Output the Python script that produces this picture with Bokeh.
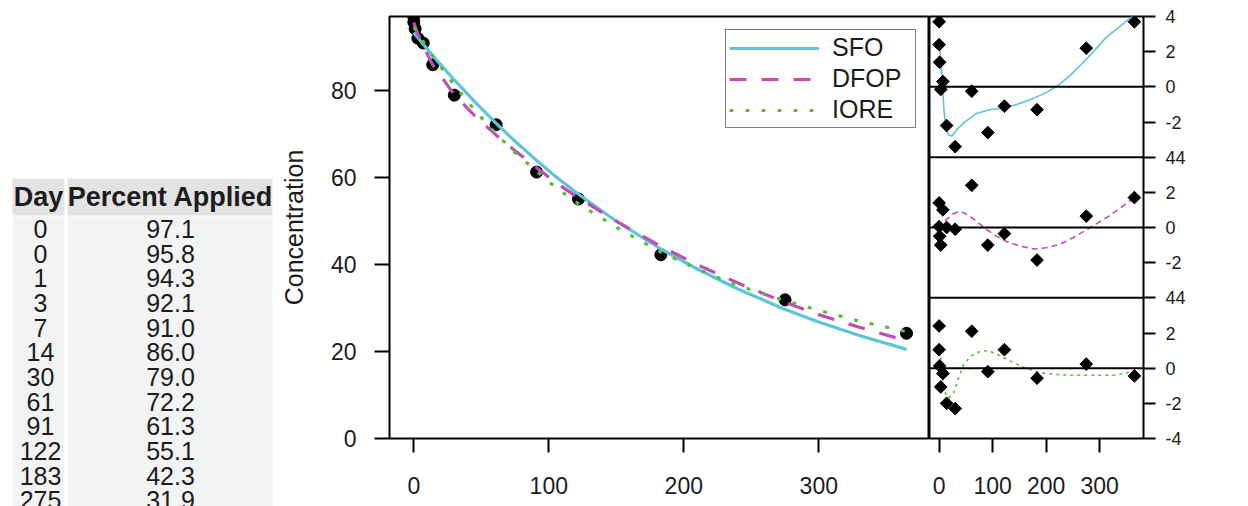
import math
from bokeh.plotting import figure
from bokeh.layouts import row
from bokeh.models import Range1d, FixedTicker, Legend, LegendItem, Span
from bokeh.embed import file_html
from bokeh.resources import INLINE
from bokeh.core.properties import value

# ---------------- data ----------------
days = [0, 0, 1, 3, 7, 14, 30, 61, 91, 122, 183, 275, 365]
percent = [97.1, 95.8, 94.3, 92.1, 91.0, 86.0, 79.0, 72.2, 61.3, 55.1, 42.3, 31.9, 24.2]
day_labels = ["0", "0", "1", "3", "7", "14", "30", "61", "91", "122", "183", "275", "365"]
percent_labels = ["97.1", "95.8", "94.3", "92.1", "91.0", "86.0", "79.0", "72.2",
                  "61.3", "55.1", "42.3", "31.9", "24.2"]
table_header = ["Day", "Percent Applied"]
visible_rows = 12

curve_days = [0, 1, 3, 7, 14, 30, 45, 61, 75, 91, 105, 122, 150, 183, 210, 240, 275, 300, 330, 365]
sfo_fit = [93.4, 93.0, 92.2, 90.7, 88.1, 82.5, 77.5, 72.5, 68.4, 64.0, 60.3, 56.2, 50.0, 43.6,
           39.0, 34.4, 29.7, 26.8, 23.7, 20.5]
dfop_fit = [95.7, 94.8, 93.1, 90.2, 86.0, 79.1, 74.3, 69.8, 66.2, 62.3, 58.9, 55.4, 50.0, 44.2,
            40.0, 35.8, 31.3, 28.5, 25.6, 22.5]
iore_fit = [94.7, 94.2, 93.2, 91.3, 88.0, 81.3, 75.6, 70.1, 65.8, 61.5, 57.8, 54.0, 48.6, 42.9,
            39.0, 35.2, 31.7, 29.5, 27.0, 24.6]

sfo_res = [3.7, 2.4, 1.4, -0.15, 0.3, -2.2, -3.4, -0.25, -2.6, -1.1, -1.3, 2.2, 3.7]
dfop_res = [1.4, 0.05, -0.5, -1.0, 1.0, 0.0, -0.1, 2.4, -1.0, -0.35, -1.85, 0.65, 1.7]
iore_res = [2.4, 1.05, 0.13, -1.07, -0.3, -2.0, -2.3, 2.1, -0.2, 1.05, -0.57, 0.23, -0.44]

sfo_smooth_days = [0, 4, 9, 13, 18, 24, 34, 46, 71, 95, 120, 145, 170, 195, 219, 245, 269, 290, 312, 340, 365]
sfo_smooth = [2.6, 1.2, -1.3, -2.45, -2.75, -2.8, -2.4, -2.05, -1.5, -1.3, -1.2, -1.0, -0.73, -0.4,
              0.0, 0.65, 1.37, 2.05, 2.8, 3.5, 4.1]
dfop_smooth_days = [0, 14, 25, 35, 45, 57, 70, 88, 105, 125, 150, 178, 200, 225, 255, 287, 320, 365]
dfop_smooth = [-0.1, 0.46, 0.75, 0.9, 0.85, 0.65, 0.35, -0.1, -0.45, -0.78, -1.05, -1.22, -1.15,
               -0.97, -0.5, 0.08, 0.7, 1.7]
iore_smooth_days = [0, 4, 7, 12, 17, 26, 36, 46, 60, 80, 95, 108, 130, 151, 170, 188, 215, 244, 290, 325, 345, 365]
iore_smooth = [1.4, 0.2, -0.9, -1.45, -1.7, -1.5, -0.6, 0.23, 0.7, 1.0, 0.95, 0.8, 0.45, 0.13, -0.08,
               -0.25, -0.35, -0.4, -0.4, -0.4, -0.3, -0.15]

x_ticks = [0, 100, 200, 300]
y_ticks = [0, 20, 40, 60, 80]

# ---------------- style ----------------
FONT = "Liberation Sans"
TXT = "#1c1c1c"
SFO_C = "#5ec4da"
DFOP_C = "#c04fb4"
IORE_C = "#58bf3c"
X_START, X_END = -18, 382
TOP = 16  # frame top shared by the row

# ---------------- table ----------------
TW, TH = 275, 490
tbl = figure(title=None, frame_width=TW, frame_height=TH, x_range=Range1d(0, TW),
             y_range=Range1d(TOP + TH, TOP), min_border=0, min_border_top=TOP,
             x_axis_location=None, y_axis_location=None,
             output_backend="svg", toolbar_location=None)
tbl.outline_line_color = None
tbl.grid.grid_line_color = None
col_left = [12, 67]
col_right = [64, 272]
tbl.quad(left=col_left, right=col_right, top=[178, 178], bottom=[215, 215],
         fill_color="#e3e3e3", line_color=None)
tbl.quad(left=col_left, right=col_right, top=[216, 216], bottom=[TOP + TH, TOP + TH],
         fill_color="#f2f3f3", line_color=None)
tbl.text(x=[38, 170], y=[196.5, 196.5], text=table_header, text_align="center",
         text_baseline="middle", text_font=value(FONT), text_font_style="bold",
         text_font_size="27px", text_color=TXT)
row_y = [228.5 + 24.65 * i for i in range(visible_rows)]
tbl.text(x=[40] * visible_rows, y=row_y, text=day_labels[:visible_rows], text_align="center",
         text_baseline="middle", text_font=value(FONT), text_font_size="25px", text_color=TXT)
tbl.text(x=[170] * visible_rows, y=row_y, text=percent_labels[:visible_rows], text_align="center",
         text_baseline="middle", text_font=value(FONT), text_font_size="25px", text_color=TXT)


def style_axis(ax, ticks, size="23px", tick_out=14, standoff=18):
    ax.ticker = FixedTicker(ticks=ticks)
    ax.major_tick_out = tick_out
    ax.major_tick_in = 0
    ax.major_tick_line_width = 2
    ax.major_tick_line_color = "black"
    ax.minor_tick_line_color = None
    ax.axis_line_color = None
    ax.major_label_text_font = FONT
    ax.major_label_text_font_size = size
    ax.major_label_text_color = TXT
    ax.major_label_standoff = standoff


# ---------------- main plot ----------------
main = figure(title=None, frame_width=540, frame_height=422, x_range=Range1d(X_START, X_END),
              y_range=Range1d(0, max(percent)), min_border=0, min_border_left=114,
              min_border_top=TOP, output_backend="svg", toolbar_location=None)
main.grid.grid_line_color = None
main.outline_line_color = "black"
main.outline_line_width = 2
style_axis(main.xaxis[0], x_ticks, standoff=24)
style_axis(main.yaxis[0], y_ticks, tick_out=15, standoff=18)
main.yaxis.axis_label = "Concentration"
main.yaxis.axis_label_text_font = FONT
main.yaxis.axis_label_text_font_size = "25px"
main.yaxis.axis_label_text_font_style = "normal"
main.yaxis.axis_label_text_color = TXT
main.yaxis.axis_label_standoff = 20

main.scatter(days, percent, size=12, marker="circle", color="black")
l_sfo = main.line(curve_days, sfo_fit, color=SFO_C, line_width=3.2)
l_dfop = main.line(curve_days, dfop_fit, color=DFOP_C, line_width=3.2, line_dash="17 15")
l_iore = main.line(curve_days, iore_fit, color=IORE_C, line_width=3.2, line_dash="4 12")

legend = Legend(items=[LegendItem(label="SFO", renderers=[l_sfo]),
                       LegendItem(label="DFOP", renderers=[l_dfop]),
                       LegendItem(label="IORE", renderers=[l_iore])],
                location="top_right", margin=13, padding=3, spacing=2,
                glyph_width=90, glyph_height=22, label_standoff=13, label_width=80,
                label_height=22, label_text_font=FONT, label_text_font_size="25px",
                label_text_color=TXT, label_text_line_height=1.0,
                border_line_color="black", border_line_width=1.5,
                background_fill_color="white", background_fill_alpha=1.0)
main.add_layout(legend)

# ---------------- residual panels ----------------
res = figure(title=None, frame_width=214, frame_height=422, x_range=Range1d(X_START, X_END),
             y_range=Range1d(-12, 12), min_border=0, min_border_top=TOP,
             y_axis_location="right", output_backend="svg", toolbar_location=None)
res.extra_y_ranges = {"p1": Range1d(-20, 4), "p2": Range1d(-12, 12), "p3": Range1d(-4, 20)}
res.grid.grid_line_color = None
res.outline_line_color = "black"
res.outline_line_width = 2
style_axis(res.xaxis[0], x_ticks, standoff=24)
style_axis(res.yaxis[0], [-12, -10, -8, -6, -4, -2, 0, 2, 4, 6, 8, 10, 12],
           size="18px", tick_out=12, standoff=10)
res.yaxis[0].major_label_overrides = {12: "4", 10: "2", 8: "0", 6: "-2", 4: "44",
                                      2: "2", 0: "0", -2: "-2", -4: "44",
                                      -6: "2", -8: "0", -10: "-2", -12: "-4"}
for loc in (4, -4):
    res.add_layout(Span(location=loc, dimension="width", line_color="black", line_width=2))
for name in ("p1", "p2", "p3"):
    res.add_layout(Span(location=0, dimension="width", line_color="black", line_width=2,
                        y_range_name=name))

res.line(sfo_smooth_days, sfo_smooth, color=SFO_C, line_width=1.6, y_range_name="p1")
res.line(dfop_smooth_days, dfop_smooth, color=DFOP_C, line_width=1.6, line_dash="6 4",
         y_range_name="p2")
res.line(iore_smooth_days, iore_smooth, color=IORE_C, line_width=1.6, line_dash="3 4",
         y_range_name="p3")
for vals, name in ((sfo_res, "p1"), (dfop_res, "p2"), (iore_res, "p3")):
    res.scatter(days, vals, marker="square", angle=math.pi / 4, size=9, color="black",
                y_range_name=name)

layout = row(tbl, main, res)
open("out.html", "w").write(file_html(layout, INLINE))
